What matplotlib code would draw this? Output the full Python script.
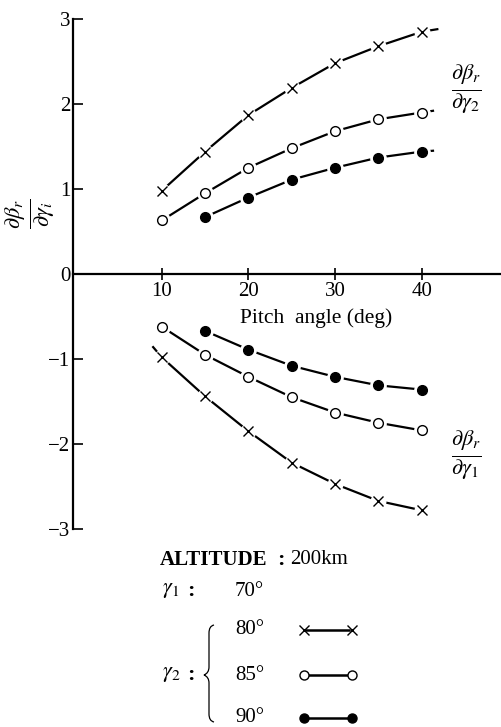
import numpy as np
from matplotlib import pyplot as plt
from matplotlib.lines import Line2D
from matplotlib.path import Path
from matplotlib.patches import PathPatch

plt.rcParams.update({
    "font.family": ['Liberation Serif', 'DejaVu Serif'],
    "mathtext.fontset": 'stix',
})

# pitch angle (deg) where the points sit
pitch = np.array([10, 15, 20, 25, 30, 35, 40])
pitch_90 = np.array([15, 20, 25, 30, 35, 40])

# d(beta_r)/d(gamma_2), upper branch
g2_80 = np.array([0.98, 1.44, 1.87, 2.19, 2.48, 2.68, 2.85])
g2_85 = np.array([0.63, 0.95, 1.25, 1.48, 1.68, 1.82, 1.90])
g2_90 = np.array([0.67, 0.90, 1.11, 1.25, 1.37, 1.44])

# d(beta_r)/d(gamma_1), lower branch
g1_80 = np.array([-0.98, -1.44, -1.85, -2.22, -2.47, -2.67, -2.78])
g1_85 = np.array([-0.62, -0.95, -1.21, -1.45, -1.63, -1.75, -1.84])
g1_90 = np.array([-0.67, -0.89, -1.08, -1.21, -1.31, -1.36])

# where the drawn curves run on past the last (or before the first) point
tail_x = [41.8, 41.3, 41.3]
tail_y = [2.88, 1.92, 1.45]
head_x, head_y = 9.0, -0.86

W, H = 501, 727
fig = plt.figure(figsize=(W / 100, H / 100), dpi=100)
ax = fig.add_axes([73 / W, 1 - 529 / H, 428 / W, 510 / H])


def draw(x, y, marker, mfc, ms, xe=None, ye=None, before=False):
    lx, ly = list(x), list(y)
    if xe is not None:
        if before:
            lx, ly = [xe] + lx, [ye] + ly
        else:
            lx, ly = lx + [xe], ly + [ye]
    ax.plot(lx, ly, '-', color='k', lw=1.6, zorder=2, clip_on=False)
    ax.plot(x, y, ls='none', marker='o', ms=ms + 4, mfc='w', mec='w',
            zorder=3, clip_on=False)
    ax.plot(x, y, ls='none', marker=marker, ms=ms, mfc=mfc, mec='k',
            mew=1.0, zorder=4, clip_on=False)


draw(pitch, g2_80, 'x', 'k', 6.5, tail_x[0], tail_y[0])
draw(pitch, g2_85, 'o', 'w', 7, tail_x[1], tail_y[1])
draw(pitch_90, g2_90, 'o', 'k', 7, tail_x[2], tail_y[2])
draw(pitch, g1_80, 'x', 'k', 6.5, head_x, head_y, before=True)
draw(pitch, g1_85, 'o', 'w', 7)
draw(pitch_90, g1_90, 'o', 'k', 7)

ax.set_xlim(-0.25, 49.15)
ax.set_ylim(-3, 3)
ax.spines['top'].set_visible(False)
ax.spines['right'].set_visible(False)
ax.spines['bottom'].set_position(('data', 0))
ax.spines['left'].set_linewidth(1.6)
ax.spines['bottom'].set_linewidth(1.6)
ax.set_xticks([10, 20, 30, 40])
ax.set_yticks([-3, -2, -1, 0, 1, 2, 3])
ax.tick_params(axis='x', direction='inout', length=9, width=1.2,
               labelsize=15, pad=1)
ax.tick_params(axis='y', direction='in', length=7, width=1.2,
               labelsize=15, pad=2)
ax.patch.set_alpha(0)

fig.text(316 / W, 1 - 318 / H, "Pitch  angle (deg)", fontsize=15.5,
         ha='center', va='center')
fig.text(31 / W, 1 - 214 / H, r'$\frac{\partial\beta_r}{\partial\gamma_i}$',
         fontsize=23, rotation=90, ha='center', va='center')
fig.text(466 / W, 1 - 90 / H, r'$\frac{\partial\beta_r}{\partial\gamma_2}$',
         fontsize=23, ha='center', va='center')
fig.text(466 / W, 1 - 456 / H, r'$\frac{\partial\beta_r}{\partial\gamma_1}$',
         fontsize=23, ha='center', va='center')

# legend block
fig.text(160 / W, 1 - 560 / H, "ALTITUDE", fontsize=15, weight='bold',
         ha='left', va='center')
fig.text(277 / W, 1 - 560 / H, ":", fontsize=16, weight='bold',
         ha='left', va='center')
fig.text(290 / W, 1 - 560 / H, "200km", fontsize=15, ha='left', va='center')
fig.text(162 / W, 1 - 591 / H, r'$\gamma_1$', fontsize=16, ha='left', va='center')
fig.text(187 / W, 1 - 591 / H, ":", fontsize=16, weight='bold', ha='left', va='center')
fig.text(235 / W, 1 - 591 / H, "70°", fontsize=15, ha='left', va='center')
fig.text(162 / W, 1 - 675 / H, r'$\gamma_2$', fontsize=16, ha='left', va='center')
fig.text(187 / W, 1 - 675 / H, ":", fontsize=16, weight='bold', ha='left', va='center')

rows = [("80°", 630, 'x', 'k'), ("85°", 675, 'o', 'w'), ("90°", 718, 'o', 'k')]
for lab, py, mk, fc in rows:
    fig.text(235 / W, 1 - py / H, lab, fontsize=15, ha='left', va='center')
    yy = 1 - py / H
    fig.add_artist(Line2D([306 / W, 349 / W], [yy, yy], color='k', lw=1.8))
    fig.add_artist(Line2D([304 / W, 352 / W], [yy, yy], ls='none', marker=mk,
                          ms=6.5, mfc=fc, mec='k', mew=1.0))

# curly brace for gamma_2
bx, top, bot, mid = 209, 625, 722, 675
pts = [(bx + 5, top), (bx, top + 1), (bx, top + 8),
       (bx, mid - 8), (bx, mid - 2), (bx - 5, mid),
       (bx, mid + 2), (bx, mid + 8),
       (bx, bot - 8), (bx, bot - 1), (bx + 5, bot)]
verts = [(x / W, 1 - y / H) for x, y in pts]
codes = [Path.MOVETO, Path.CURVE3, Path.CURVE3, Path.LINETO, Path.CURVE3,
         Path.CURVE3, Path.CURVE3, Path.CURVE3, Path.LINETO, Path.CURVE3,
         Path.CURVE3]
fig.add_artist(PathPatch(Path(verts, codes), fill=False, lw=0.9,
                         transform=fig.transFigure))

fig.savefig('out.png', dpi=100)
